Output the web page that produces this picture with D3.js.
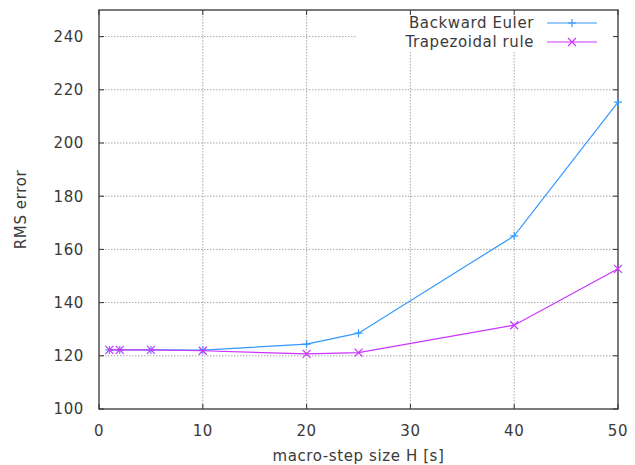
<!DOCTYPE html>
<html>
<head>
<meta charset="utf-8">
<script src="https://cdn.jsdelivr.net/npm/d3@7"></script>
<style>
  body { margin: 0; background: #fff; }
  svg { display: block; }
  text { font-family: "DejaVu Sans", sans-serif; font-size: 15px; fill: #3a3a3a; letter-spacing: 0.6px; }
</style>
</head>
<body>
<svg id="chart"></svg>
<script>
// step sizes H [s]
const stepSizes = [1, 2, 5, 10, 20, 25, 40, 50];
// RMS error per method
const backwardEuler = [122.2, 122.2, 122.2, 122.1, 124.4, 128.5, 165.1, 215.4];
const trapezoidal = [122.2, 122.2, 122.2, 121.9, 120.7, 121.2, 131.5, 152.7];

const xTicks = [0, 10, 20, 30, 40, 50];
const yTicks = [100, 120, 140, 160, 180, 200, 220, 240];

const seriesNames = ['Backward Euler', 'Trapezoidal rule'];
const colors = ['#3399ff', '#cc33ff'];

const width = 635, height = 465;
const margin = {top: 10, right: 17, bottom: 56, left: 99};
const w = width - margin.left - margin.right;
const h = height - margin.top - margin.bottom;

const svg = d3.select('#chart').attr('width', width).attr('height', height);
const g = svg.append('g').attr('transform', `translate(${margin.left},${margin.top})`);

const x = d3.scaleLinear().domain([0, 50]).range([0, w]);
const y = d3.scaleLinear().domain([100, 250]).range([h, 0]);

// dotted grid
const grid = g.append('g').attr('stroke', '#a8a8a8').attr('stroke-dasharray', '1.5,1.5').attr('stroke-width', 1);
grid.selectAll('.gy').data(yTicks.slice(1)).join('line')
  .attr('x1', 0).attr('x2', w).attr('y1', d => y(d)).attr('y2', d => y(d));
grid.selectAll('.gx').data(xTicks.slice(1, -1)).join('line')
  .attr('x1', d => x(d)).attr('x2', d => x(d)).attr('y1', 0).attr('y2', h);

// legend background covers the grid
const legend = g.append('g');
legend.append('rect').attr('x', 258).attr('y', 0).attr('width', w - 258).attr('height', 41).attr('fill', '#fff');

// axes with inward ticks, mirrored
const tickLen = 5;
const axisG = g.append('g').attr('stroke', '#333').attr('stroke-width', 1);
axisG.selectAll('.tb').data(xTicks).join('line')
  .attr('x1', d => x(d)).attr('x2', d => x(d)).attr('y1', h).attr('y2', h - tickLen);
axisG.selectAll('.tt').data(xTicks).join('line')
  .attr('x1', d => x(d)).attr('x2', d => x(d)).attr('y1', 0).attr('y2', tickLen);
axisG.selectAll('.tl').data(yTicks).join('line')
  .attr('x1', 0).attr('x2', tickLen).attr('y1', d => y(d)).attr('y2', d => y(d));
axisG.selectAll('.tr').data(yTicks).join('line')
  .attr('x1', w).attr('x2', w - tickLen).attr('y1', d => y(d)).attr('y2', d => y(d));
g.append('rect').attr('width', w).attr('height', h)
  .attr('fill', 'none').attr('stroke', '#333').attr('stroke-width', 1.3);

// tick labels
g.selectAll('.xl').data(xTicks).join('text')
  .attr('x', d => x(d)).attr('y', h + 27).attr('text-anchor', 'middle').text(d => d);
g.selectAll('.yl').data(yTicks).join('text')
  .attr('x', -15).attr('y', d => y(d)).attr('dy', '0.36em').attr('text-anchor', 'end').text(d => d);

// axis titles
svg.append('text').attr('x', margin.left + w / 2).attr('y', 461).attr('text-anchor', 'middle')
  .text('macro-step size H [s]');
svg.append('text').attr('transform', `translate(26,${margin.top + h / 2}) rotate(-90)`)
  .attr('text-anchor', 'middle').text('RMS error');

const line = d3.line().x(d => x(d[0])).y(d => y(d[1]));
const plus = (sel, c) => sel.append('path').attr('d', 'M-4,0H4M0,-4V4').attr('stroke', c).attr('stroke-width', 1.2);
const cross = (sel, c) => sel.append('path').attr('d', 'M-4,-4L4,4M-4,4L4,-4').attr('stroke', c).attr('stroke-width', 1.2);
const markers = [plus, cross];

[backwardEuler, trapezoidal].forEach((vals, i) => {
  const pts = stepSizes.map((s, j) => [s, vals[j]]);
  g.append('path').datum(pts).attr('d', line)
    .attr('fill', 'none').attr('stroke', colors[i]).attr('stroke-width', 1.2);
  pts.forEach(p => {
    const m = g.append('g').attr('transform', `translate(${x(p[0])},${y(p[1])})`);
    markers[i](m, colors[i]);
  });
});

// legend entries
seriesNames.forEach((name, i) => {
  const ly = 13 + i * 19;
  legend.append('text').attr('x', 435).attr('y', ly).attr('dy', '0.36em')
    .attr('text-anchor', 'end').text(name);
  legend.append('line').attr('x1', 448).attr('x2', 498).attr('y1', ly).attr('y2', ly)
    .attr('stroke', colors[i]).attr('stroke-width', 1.2);
  const m = legend.append('g').attr('transform', `translate(473,${ly})`);
  markers[i](m, colors[i]);
});
</script>
</body>
</html>
